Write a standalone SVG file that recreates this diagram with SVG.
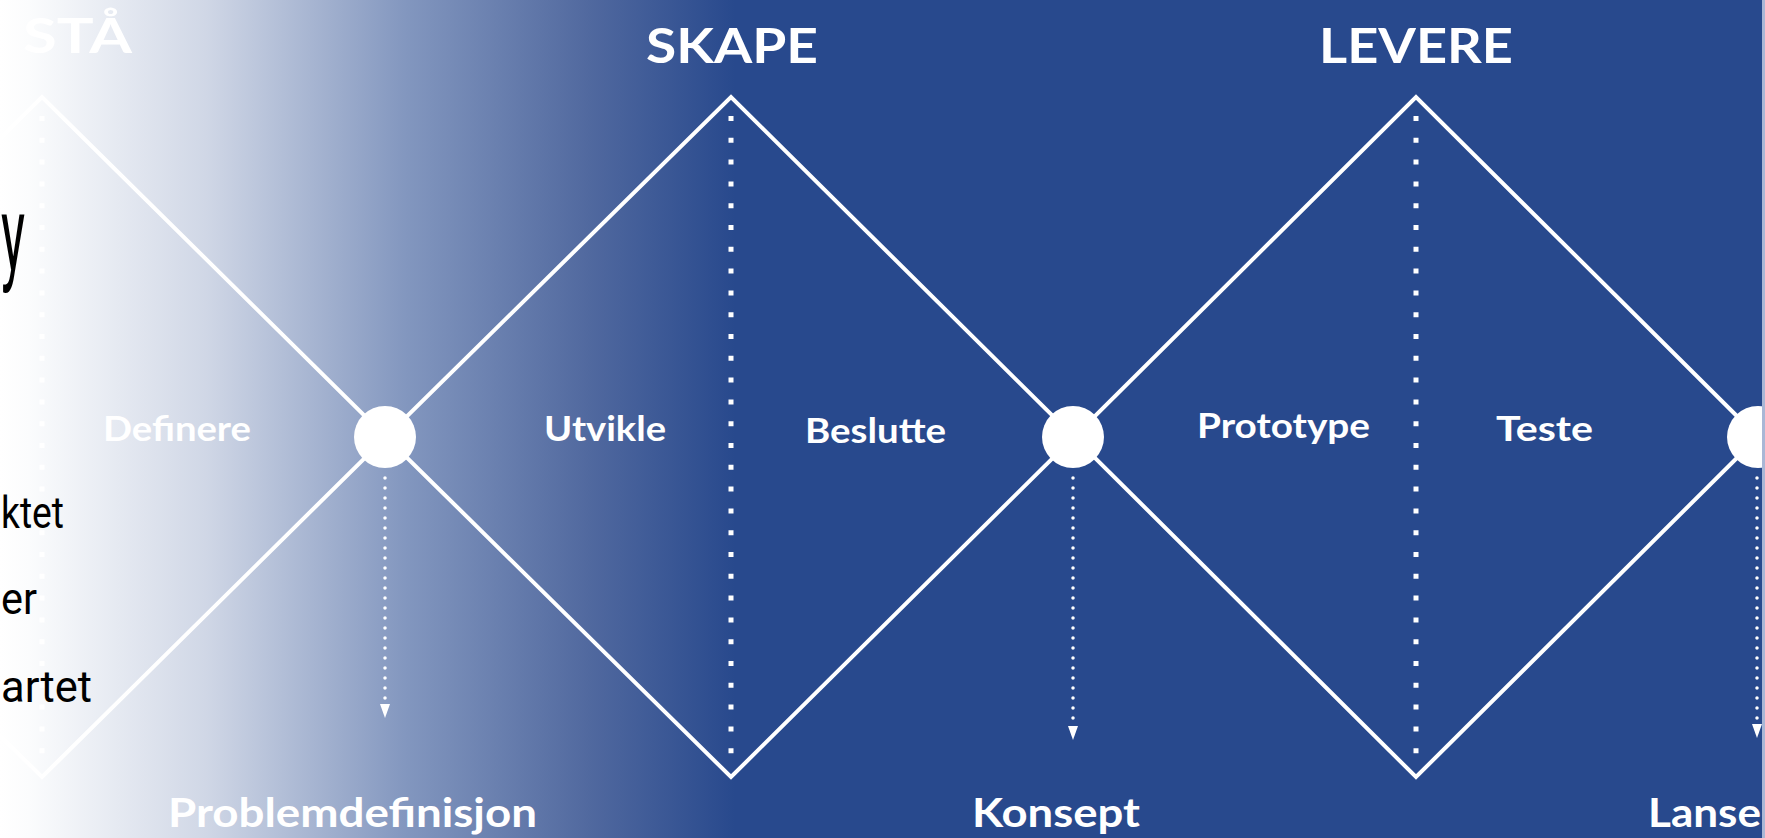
<svg xmlns="http://www.w3.org/2000/svg" width="1765" height="838" viewBox="0 0 1765 838">
  <defs>
    <linearGradient id="bg" gradientUnits="userSpaceOnUse" x1="0" y1="0" x2="735" y2="0">
      <stop offset="0" stop-color="#ffffff"/>
      <stop offset="0.04" stop-color="#fbfcfd"/>
      <stop offset="0.28" stop-color="#d0d7e6"/>
      <stop offset="0.55" stop-color="#8397bf"/>
      <stop offset="0.8" stop-color="#51699f"/>
      <stop offset="1" stop-color="#28498d"/>
    </linearGradient>
    <marker id="arrow" viewBox="0 0 14 10" markerWidth="14" markerHeight="10" refX="0" refY="5" orient="auto" markerUnits="userSpaceOnUse">
      <path d="M0,0 L14,5 L0,10 z" fill="#ffffff"/>
    </marker>
    <style>
      .edge { fill: none; stroke: #ffffff; stroke-width: 4; stroke-linejoin: miter; }
      .divider { stroke: #ffffff; stroke-width: 5; stroke-dasharray: 5 16.8; }
      .flow { stroke: #ffffff; stroke-width: 3.5; stroke-linecap: round; stroke-dasharray: 0 10; }
      .node { fill: #ffffff; }
      .phase { font-family: "Lato", "Open Sans", sans-serif; font-weight: 700; font-size: 48px; fill: #ffffff; }
      .step { font-family: "Lato", "Open Sans", sans-serif; font-weight: 700; font-size: 34px; fill: #ffffff; }
      .result { font-family: "Lato", "Open Sans", sans-serif; font-weight: 700; font-size: 40px; fill: #ffffff; }
      .slide { font-family: "Roboto", "Liberation Sans", sans-serif; font-size: 44px; fill: #000000; }
    </style>
  </defs>

  <rect x="0" y="0" width="1765" height="838" fill="url(#bg)"/>

  <g id="connectors">
    <polyline class="edge" points="-302,437 42,97 386,437 731,97 1074,437 1416,97 1758,437"/>
    <polyline class="edge" points="-302,437 42,777 386,437 731,777 1074,437 1416,777 1758,437"/>
    <line class="divider" x1="42" y1="116" x2="42" y2="762"/>
    <line class="divider" x1="731" y1="116" x2="731" y2="762"/>
    <line class="divider" x1="1416" y1="116" x2="1416" y2="762"/>
    <line class="flow" x1="385" y1="478" x2="385" y2="704" marker-end="url(#arrow)"/>
    <line class="flow" x1="1073" y1="478" x2="1073" y2="726" marker-end="url(#arrow)"/>
    <line class="flow" x1="1757" y1="478" x2="1757" y2="724" marker-end="url(#arrow)"/>
  </g>

  <g id="phase-forsta">
    <text class="phase" x="23" y="53" textLength="109" lengthAdjust="spacingAndGlyphs">STÅ</text>
    <text class="step" x="103" y="441" textLength="148" lengthAdjust="spacingAndGlyphs">Definere</text>
  </g>

  <g id="phase-skape">
    <text class="phase" x="646" y="63" textLength="172" lengthAdjust="spacingAndGlyphs">SKAPE</text>
    <text class="step" x="544" y="441" textLength="122" lengthAdjust="spacingAndGlyphs">Utvikle</text>
    <text class="step" x="805" y="443" textLength="141" lengthAdjust="spacingAndGlyphs">Beslutte</text>
  </g>

  <g id="phase-levere">
    <text class="phase" x="1319" y="63" textLength="194" lengthAdjust="spacingAndGlyphs">LEVERE</text>
    <text class="step" x="1197" y="438" textLength="173" lengthAdjust="spacingAndGlyphs">Prototype</text>
    <text class="step" x="1496" y="441" textLength="97" lengthAdjust="spacingAndGlyphs">Teste</text>
  </g>

  <g id="milestone-problemdefinisjon">
    <circle class="node" cx="385" cy="437" r="31"/>
    <text class="result" x="168" y="827" textLength="369" lengthAdjust="spacingAndGlyphs">Problemdefinisjon</text>
  </g>

  <g id="milestone-konsept">
    <circle class="node" cx="1073" cy="437" r="31"/>
    <text class="result" x="972" y="827" textLength="168" lengthAdjust="spacingAndGlyphs">Konsept</text>
  </g>

  <g id="milestone-lansering">
    <circle class="node" cx="1758" cy="437" r="31"/>
    <text class="result" x="1648" y="827" textLength="113" lengthAdjust="spacingAndGlyphs">Lanse</text>
  </g>

  <rect x="1762" y="0" width="3" height="838" fill="#a9b7d6"/>

  <g id="slide-text">
    <text class="slide" x="1" y="270" style="font-size:105px" textLength="24" lengthAdjust="spacingAndGlyphs">y</text>
    <text class="slide" x="1" y="528" textLength="63" lengthAdjust="spacingAndGlyphs">ktet</text>
    <text class="slide" x="1" y="614" textLength="36" lengthAdjust="spacingAndGlyphs">er</text>
    <text class="slide" x="1" y="702" textLength="91" lengthAdjust="spacingAndGlyphs">artet</text>
  </g>
</svg>
